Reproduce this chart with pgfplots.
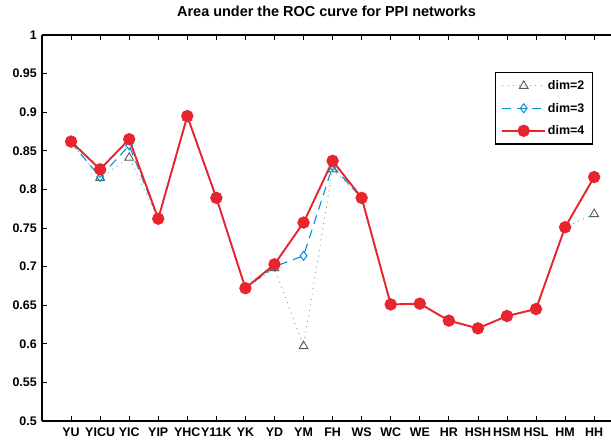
\documentclass[border=0pt]{standalone}
\usepackage{fontspec}
\setmainfont{Liberation Sans}
\usepackage{pgfplots}
\pgfplotsset{compat=1.18}
\definecolor{ctwo}{RGB}{95,185,165}
\definecolor{cmk}{RGB}{90,90,90}
\definecolor{cthree}{RGB}{0,145,215}
\definecolor{cfour}{RGB}{232,36,44}
\begin{document}
\begin{tikzpicture}
\begin{axis}[
  name=ax,
  scale only axis,
  width=569bp, height=386bp,
  xmin=0, xmax=19.58, ymin=0.5, ymax=1,
  axis x line*=box, axis y line*=left,
  xtick={1,...,19},
  xticklabels={YU,YICU,YIC,YIP,YHC,Y11K,YK,YD,YM,FH,WS,WC,WE,HR,HSH,HSM,HSL,HM,HH},
  ytick={0.5,0.55,...,1.0},
  yticklabel style={/pgf/number format/fixed,/pgf/number format/precision=2},
  /pgf/number format/assume math mode=true,
  tick align=inside, major tick length=5bp,
  tick style={black, line width=0.7bp},
  axis line style={line width=1.1bp},
  ticklabel style={font=\fontsize{12.5}{14}\selectfont\bfseries},
  xticklabel style={inner sep=0pt, yshift=-7bp},
  yticklabel style={inner sep=0pt, xshift=-5bp},
  title={\bfseries Area under the ROC curve for PPI networks},
  title style={font=\fontsize{14.5}{16}\selectfont\bfseries, at={(0.5,1)}, anchor=base, yshift=13bp},
  legend style={at={(0.968,0.904)}, anchor=north east, draw=black, line width=1.1bp,
    font=\fontsize{12.5}{14}\selectfont\bfseries, row sep=8pt, inner sep=6pt},
  legend cell align=left,
  legend image code/.code={\draw[mark repeat=2,mark phase=2] plot coordinates {(0cm,0cm)(0.75cm,0cm)(1.5cm,0cm)};},
]
\addplot[ctwo, line width=1bp, dash pattern=on 1bp off 4.5bp, mark=triangle, mark size=5bp,
  mark options={solid, draw=cmk, line width=0.9bp}] coordinates {
(1,0.861)(2,0.815)(3,0.841)(4,0.762)(5,0.893)(6,0.789)(7,0.672)(8,0.698)(9,0.597)(10,0.826)
(11,0.789)(12,0.651)(13,0.652)(14,0.630)(15,0.620)(16,0.636)(17,0.645)(18,0.751)(19,0.768)};
\addlegendentry{dim=2}
\addplot[cthree, dash pattern=on 9bp off 6bp, line width=1.1bp, mark=diamond, mark size=4.5bp,
  mark options={solid, draw=cthree, line width=1bp}] coordinates {
(1,0.861)(2,0.816)(3,0.857)(4,0.762)(5,0.894)(6,0.789)(7,0.672)(8,0.700)(9,0.714)(10,0.830)
(11,0.789)(12,0.651)(13,0.652)(14,0.630)(15,0.620)(16,0.636)(17,0.645)(18,0.751)(19,0.816)};
\addlegendentry{dim=3}
\addplot[cfour, solid, line width=1.9bp, mark=*, mark size=5.2bp,
  mark options={fill=cfour, draw=cfour}] coordinates {
(1,0.862)(2,0.826)(3,0.865)(4,0.762)(5,0.895)(6,0.789)(7,0.672)(8,0.703)(9,0.757)(10,0.837)
(11,0.789)(12,0.651)(13,0.652)(14,0.630)(15,0.620)(16,0.636)(17,0.645)(18,0.751)(19,0.816)};
\addlegendentry{dim=4}
\end{axis}
\pgfresetboundingbox
\useasboundingbox ([xshift=-42bp,yshift=-19bp]ax.south west) rectangle ([yshift=35bp]ax.north east);
\end{tikzpicture}
\end{document}
